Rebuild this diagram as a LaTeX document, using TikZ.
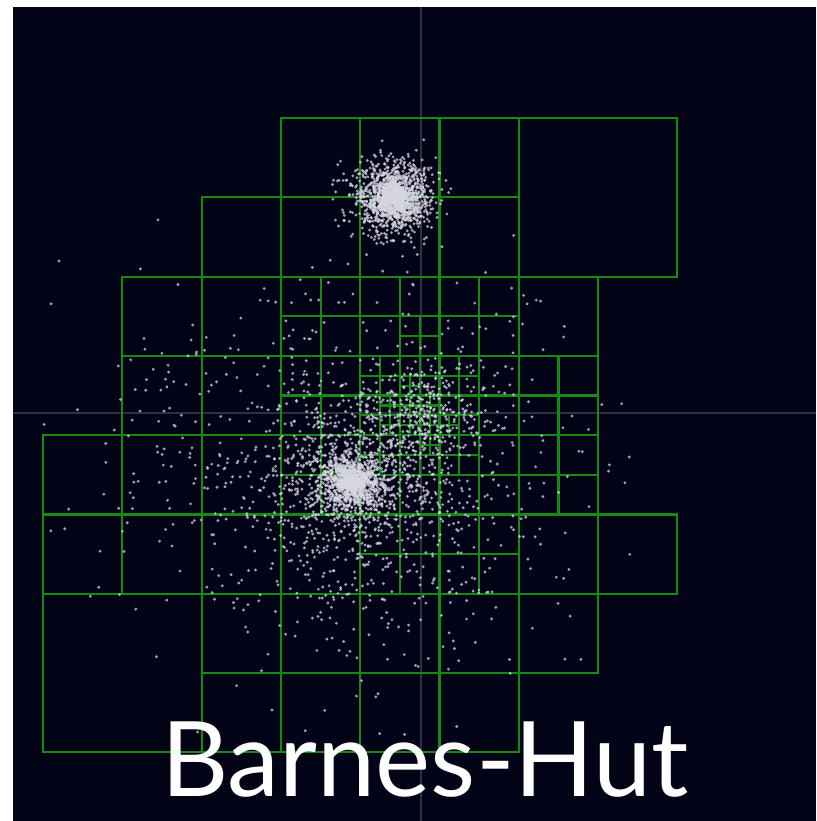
\documentclass[tikz,border=0pt]{standalone}
\usepackage{fontspec}
\setmainfont{Lato}
\definecolor{SpaceNavy}{RGB}{3,3,24}
\definecolor{CellGreen}{RGB}{20,140,20}
\definecolor{AxisGrey}{RGB}{48,48,62}
\definecolor{StarGrey}{RGB}{215,215,225}
\tikzset{
  cell/.style={draw=CellGreen,line width=1.8pt},
  axisline/.style={AxisGrey,line width=1.1pt},
  particle/.style={fill=StarGrey,fill opacity=0.75},
  title/.style={text=white,font=\fontsize{89}{89}\selectfont,inner sep=0pt}
}
% #1 count, (#2,#3) centre, #4/#5 spread in x/y
\newcommand{\starblob}[5]{%
  \foreach \i in {1,...,#1}{
    \pgfmathsetmacro\gg{sqrt(-2*ln(0.002+0.997*rnd))}
    \pgfmathsetmacro\aa{360*rnd}
    \pgfmathsetmacro\dx{#4*\gg*cos(\aa)}
    \pgfmathsetmacro\dy{#5*\gg*sin(\aa)}
    \fill[particle] (#2,#3) ++(\dx,\dy) circle (1.35pt);
  }}

\begin{document}
\begin{tikzpicture}[x=0.03cm,y=-0.03cm]
  \useasboundingbox (0,0) rectangle (816,821);
  \fill[SpaceNavy] (13,7) rectangle (816,821);
  \draw[axisline] (421,7) -- (421,821);
  \draw[axisline] (13,413) -- (816,413);

  % quadtree cells, one unit = one depth-3 cell
  \begin{scope}[shift={(43,118)},scale=79.3]
    \draw[cell] (6,0) rectangle ++(2,2) (0,6) rectangle ++(2,2);
    \foreach \c/\r in {3/0,4/0,5/0, 2/1,3/1,4/1,5/1,
        1/2,2/2,3/2,4/2,5/2,6/2, 1/3,2/3,3/3,4/3,5/3,6/3,
        0/4,1/4,2/4,3/4,4/4,5/4,6/4, 0/5,1/5,2/5,3/5,4/5,5/5,6/5,7/5,
        2/6,3/6,4/6,5/6,6/6, 2/7,3/7,4/7,5/7}
      \draw[cell] (\c,\r) rectangle ++(1,1);
    % split cells
    \foreach \c/\r/\s in {3/2/1,4/2/1,5/2/1,3/3/1,4/3/1,5/3/1,6/3/1,
        3/4/1,4/4/1,5/4/1,6/4/1,4/5/1,5/5/1,
        4.5/2.5/0.5,4/3/0.5,4.5/3/0.5,5/3/0.5,4/3.5/0.5,4.5/3.5/0.5,
        5/3.5/0.5,4/4/0.5,4.5/4/0.5,5/4/0.5,
        4.5/3.25/0.25,4.25/3.5/0.25,4.5/3.5/0.25,4.75/3.5/0.25,
        4.25/3.75/0.25,4.5/3.75/0.25,4.75/3.75/0.25,5/3.75/0.25,
        4.75/4/0.25}
      \draw[cell] (\c+\s/2,\r) -- ++(0,\s) (\c,\r+\s/2) -- ++(\s,0);
  \end{scope}

  % bodies
  \pgfmathsetseed{7}
  \starblob{1100}{394}{198}{20}{19}
  \starblob{450}{394}{198}{8}{8}
  \starblob{800}{352}{482}{16}{15}
  \starblob{300}{352}{482}{6}{6}
  \starblob{800}{360}{480}{46}{44}
  \starblob{240}{425}{412}{28}{26}
  \starblob{950}{355}{480}{112}{95}

  \node[title,anchor=base] (title) at (425,796) {Barnes-Hut};
\end{tikzpicture}
\end{document}
